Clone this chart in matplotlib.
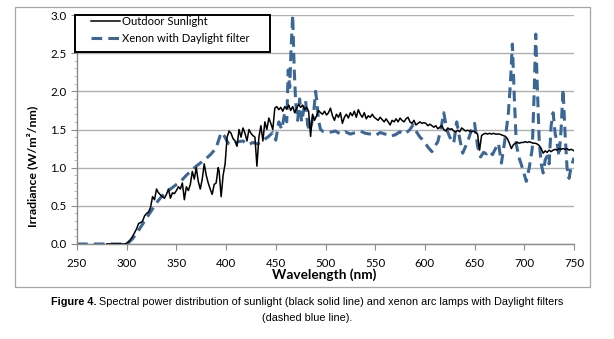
"""Spectral power distribution: outdoor sunlight vs xenon arc with Daylight filter."""

import matplotlib

matplotlib.use("Agg")
import matplotlib.pyplot as plt
from matplotlib.patches import Rectangle
from matplotlib.ticker import FormatStrFormatter, MultipleLocator

SUN_WL = [
    280, 290, 298, 300, 302, 305, 308, 310, 312, 314, 316, 318, 320, 322, 324,
    326, 328, 330, 332, 335, 338, 340, 342, 344, 346, 348, 350, 352, 354, 356,
    358, 360, 362, 364, 366, 368, 370, 372, 374, 376, 378, 380, 382, 384, 386,
    388, 390, 392, 393, 395, 397, 399, 401, 403, 405, 407, 409, 411, 413, 415,
    417, 419, 421, 423, 425, 427, 429, 431, 433, 435, 437, 439, 441, 443, 445,
    447, 449, 451, 453, 455, 457, 459, 461, 463, 465, 467, 469, 471, 473, 475,
    477, 479, 481, 483, 485, 487, 489, 491, 493, 495, 497, 499, 501, 503, 505,
    507, 509, 511, 513, 515, 517, 519, 521, 523, 525, 527, 529, 531, 533, 535,
    537, 539, 541, 543, 545, 547, 549, 551, 553, 555, 557, 559, 561, 563, 565,
    567, 569, 571, 573, 575, 577, 579, 581, 583, 585, 587, 589, 591, 593, 595,
    597, 599, 601, 603, 605, 607, 609, 611, 613, 615, 617, 619, 621, 623, 625,
    627, 629, 631, 633, 635, 637, 639, 641, 643, 645, 647, 649, 651, 653, 655,
    657, 659, 661, 663, 665, 667, 669, 671, 673, 675, 677, 679, 681, 683, 685,
    687, 689, 691, 693, 695, 697, 699, 701, 703, 705, 707, 709, 711, 713, 715,
    717, 719, 721, 723, 725, 727, 729, 731, 733, 735, 737, 739, 741, 743, 745,
    747, 749, 750,
]
SUN_VAL = [
    0.0, 0.0, 0.0, 0.01, 0.03, 0.08, 0.15, 0.2, 0.27, 0.28, 0.3, 0.37, 0.4, 0.42, 0.48,
    0.62, 0.58, 0.72, 0.67, 0.63, 0.6, 0.65, 0.72, 0.6, 0.67, 0.66, 0.7, 0.75, 0.72, 0.8,
    0.58, 0.75, 0.7, 0.78, 0.95, 0.85, 1.0, 0.82, 0.72, 0.85, 1.05, 0.9, 0.8, 0.72, 0.65,
    0.78, 0.8, 1.0, 0.95, 0.62, 0.9, 1.05, 1.4, 1.48, 1.45, 1.38, 1.35, 1.28, 1.5, 1.4,
    1.52, 1.45, 1.35, 1.5, 1.45, 1.42, 1.4, 1.02, 1.4, 1.55, 1.35, 1.6, 1.5, 1.65, 1.58,
    1.5, 1.78, 1.8, 1.76, 1.79, 1.74, 1.8, 1.77, 1.82, 1.75, 1.8, 1.72, 1.78, 1.83, 1.79,
    1.82, 1.76, 1.79, 1.74, 1.41, 1.7, 1.62, 1.68, 1.75, 1.72, 1.7, 1.74, 1.69, 1.72, 1.78,
    1.68, 1.62, 1.7, 1.66, 1.72, 1.58, 1.66, 1.7, 1.65, 1.72, 1.68, 1.74, 1.66, 1.76, 1.7,
    1.66, 1.72, 1.64, 1.68, 1.66, 1.7, 1.66, 1.64, 1.62, 1.66, 1.63, 1.6, 1.64, 1.6, 1.56,
    1.62, 1.6, 1.64, 1.6, 1.65, 1.62, 1.6, 1.64, 1.66, 1.6, 1.58, 1.62, 1.56, 1.58, 1.6,
    1.58, 1.59, 1.58, 1.55, 1.57, 1.55, 1.53, 1.55, 1.51, 1.53, 1.55, 1.5, 1.48, 1.52, 1.5,
    1.51, 1.48, 1.47, 1.49, 1.47, 1.52, 1.5, 1.48, 1.49, 1.48, 1.47, 1.48, 1.46, 1.44, 1.23,
    1.42, 1.44, 1.45, 1.44, 1.45, 1.44, 1.45, 1.44, 1.44, 1.44, 1.43, 1.42, 1.41, 1.38, 1.32,
    1.25, 1.3, 1.32, 1.33, 1.32, 1.33, 1.33, 1.34, 1.33, 1.34, 1.33, 1.32, 1.32, 1.31, 1.29,
    1.25, 1.19, 1.22, 1.2, 1.23, 1.21, 1.23, 1.24, 1.23, 1.25, 1.24, 1.25, 1.24, 1.25, 1.23,
    1.24, 1.23, 1.22,
]

XENON_WL = [
    250, 270, 290, 298, 302, 306, 310, 314, 318, 322, 326, 330, 335, 340, 345,
    350, 355, 360, 365, 370, 375, 380, 385, 390, 393, 395, 398, 402, 407, 412,
    417, 422, 427, 432, 437, 442, 447, 450, 453, 456, 459, 461, 462.5, 464, 465.5,
    467, 468.5, 470, 472, 474, 476, 478, 480, 482, 484, 486, 488, 490, 491, 493,
    495, 498, 503, 510, 515, 520, 525, 530, 535, 540, 545, 550, 555, 560, 565,
    570, 575, 580, 585, 588, 591, 595, 599, 603, 607, 610, 613, 616, 619, 622,
    625, 629, 632, 635, 638, 641, 644, 647, 650, 653, 656, 659, 662, 665, 668,
    671, 674, 677, 680, 682, 684, 686, 688, 690, 692, 695, 698, 702, 705, 708,
    710, 711.5, 713, 715, 717, 719, 721, 723, 725, 727, 729, 731, 733, 735, 737,
    739, 741, 743, 745, 747, 750,
]
XENON_VAL = [
    0.0, 0.0, 0.0, 0.0, 0.02, 0.07, 0.14, 0.22, 0.3, 0.38, 0.46, 0.54, 0.62, 0.68, 0.73,
    0.78, 0.83, 0.9, 0.96, 1.02, 1.07, 1.12, 1.18, 1.26, 1.38, 1.46, 1.42, 1.32, 1.3, 1.34,
    1.35, 1.3, 1.33, 1.31, 1.36, 1.4, 1.46, 1.36, 1.6, 1.5, 1.72, 1.6, 2.28, 2.05, 2.6,
    3.0, 2.3, 1.85, 1.62, 1.9, 1.6, 1.75, 1.88, 1.56, 1.49, 1.58, 1.7, 2.0, 1.9, 1.62,
    1.5, 1.47, 1.46, 1.48, 1.44, 1.47, 1.44, 1.46, 1.48, 1.45, 1.44, 1.42, 1.46, 1.44, 1.41,
    1.43, 1.47, 1.44, 1.5, 1.56, 1.48, 1.4, 1.35, 1.27, 1.21, 1.28, 1.34, 1.5, 1.72, 1.5,
    1.4, 1.32, 1.6, 1.38, 1.19, 1.28, 1.38, 1.5, 1.58, 1.28, 1.14, 1.2, 1.18, 1.22, 1.17,
    1.25, 1.32, 1.06, 1.32, 1.5, 1.72, 2.1, 2.62, 1.9, 1.3, 1.12, 1.0, 0.82, 1.0, 1.25,
    2.0, 2.75, 2.1, 1.35, 1.05, 0.93, 1.1, 1.15, 1.05, 1.55, 1.72, 1.45, 1.32, 1.15, 1.5,
    2.03, 1.45, 1.0, 0.86, 1.0, 1.13,
]

CAPTION_BOLD = "Figure 4."
CAPTION_LINE1 = (" Spectral power distribution of sunlight (black solid line) "
                 "and xenon arc lamps with Daylight filters")
CAPTION_LINE2 = "(dashed blue line)."

W, H = 614, 339
XENON_COLOR = "#3b6797"
GRID_COLOR = "#b0b0b0"
UI_FONT = ["Lato", "DejaVu Sans"]
CAP_FONT = "Liberation Sans"
CAP_SIZE = 7.8


def px(x, y):
    """Pixel position (from top-left) to figure fraction."""
    return x / W, 1 - y / H


def main() -> None:
    fig = plt.figure(figsize=(W / 100, H / 100), dpi=100)
    fig.patch.set_facecolor("white")

    # outer chart-area border, like the spreadsheet frame
    fig.add_artist(Rectangle(px(15, 287), 575 / W, 280 / H, transform=fig.transFigure,
                             fill=False, edgecolor="#a6a6a6", linewidth=0.9))

    ax = fig.add_axes([77 / W, 1 - 244 / H, 497 / W, 229 / H])
    ax.plot(SUN_WL, SUN_VAL, color="black", linewidth=1.1, label="Outdoor Sunlight", zorder=3)
    ax.plot(XENON_WL, XENON_VAL, color=XENON_COLOR, linewidth=2.2, dashes=(3.5, 2.0),
            label="Xenon with Daylight filter", zorder=2)

    ax.set_xlim(250, 750)
    ax.set_ylim(0, 3.0)
    ax.xaxis.set_major_locator(MultipleLocator(50))
    ax.yaxis.set_major_locator(MultipleLocator(0.5))
    ax.yaxis.set_minor_locator(MultipleLocator(0.1))
    ax.yaxis.set_major_formatter(FormatStrFormatter("%.1f"))
    ax.grid(axis="y", which="major", color=GRID_COLOR, linewidth=1.0)
    ax.set_axisbelow(True)

    for side in ("top", "right"):
        ax.spines[side].set_visible(False)
    for side in ("left", "bottom"):
        ax.spines[side].set_color("#8c8c8c")
        ax.spines[side].set_linewidth(1.0)
    ax.tick_params(axis="both", which="major", direction="out", length=4, color="#8c8c8c",
                   labelsize=8.3)
    ax.tick_params(axis="x", which="major", pad=6)
    ax.tick_params(axis="y", which="major", pad=3.5)
    ax.tick_params(axis="y", which="minor", direction="out", length=2.5, color="#b0b0b0")
    for lab in ax.get_xticklabels() + ax.get_yticklabels():
        lab.set_family(UI_FONT)

    ax.set_xlabel("Wavelength (nm)", family=UI_FONT, fontsize=9.8, fontweight="bold", va="center")
    ax.xaxis.set_label_coords((324 - 77) / 497, (244 - 275) / 229)
    ax.set_ylabel("Irradiance (W/m²/nm)", family=UI_FONT, fontsize=8.9, fontweight="bold",
                  va="center")
    ax.yaxis.set_label_coords((32 - 77) / 497, (244 - 166) / 229)

    # legend: own black frame, content placed inside it
    fig.add_artist(Rectangle(px(75, 52), 195 / W, 37 / H, transform=fig.transFigure,
                             facecolor="white", edgecolor="black", linewidth=1.4, zorder=4))
    leg = fig.legend(
        *ax.get_legend_handles_labels(), loc="upper left", bbox_to_anchor=px(91, 16),
        frameon=False, handlelength=2.55, handletextpad=0.2, borderpad=0, borderaxespad=0,
        labelspacing=0.55, prop={"family": UI_FONT, "size": 8.1},
    )
    leg.set_zorder(5)

    # caption: bold lead-in followed by regular text, centred as one line
    fig.canvas.draw()
    renderer = fig.canvas.get_renderer()
    bold = fig.text(0, 0, CAPTION_BOLD, fontsize=CAP_SIZE, family=CAP_FONT, fontweight="bold")
    rest = fig.text(0, 0, CAPTION_LINE1, fontsize=CAP_SIZE, family=CAP_FONT)
    wb = bold.get_window_extent(renderer).width
    wr = rest.get_window_extent(renderer).width
    x0 = 307 - (wb + wr) / 2
    for t, x in ((bold, x0), (rest, x0 + wb)):
        t.set_position(px(x, 302))
        t.set_va("center")
    fig.text(*px(307, 318), CAPTION_LINE2, ha="center", va="center", fontsize=CAP_SIZE,
             family=CAP_FONT)

    fig.savefig("out.png", dpi=100)
    plt.close(fig)


if __name__ == "__main__":
    main()
